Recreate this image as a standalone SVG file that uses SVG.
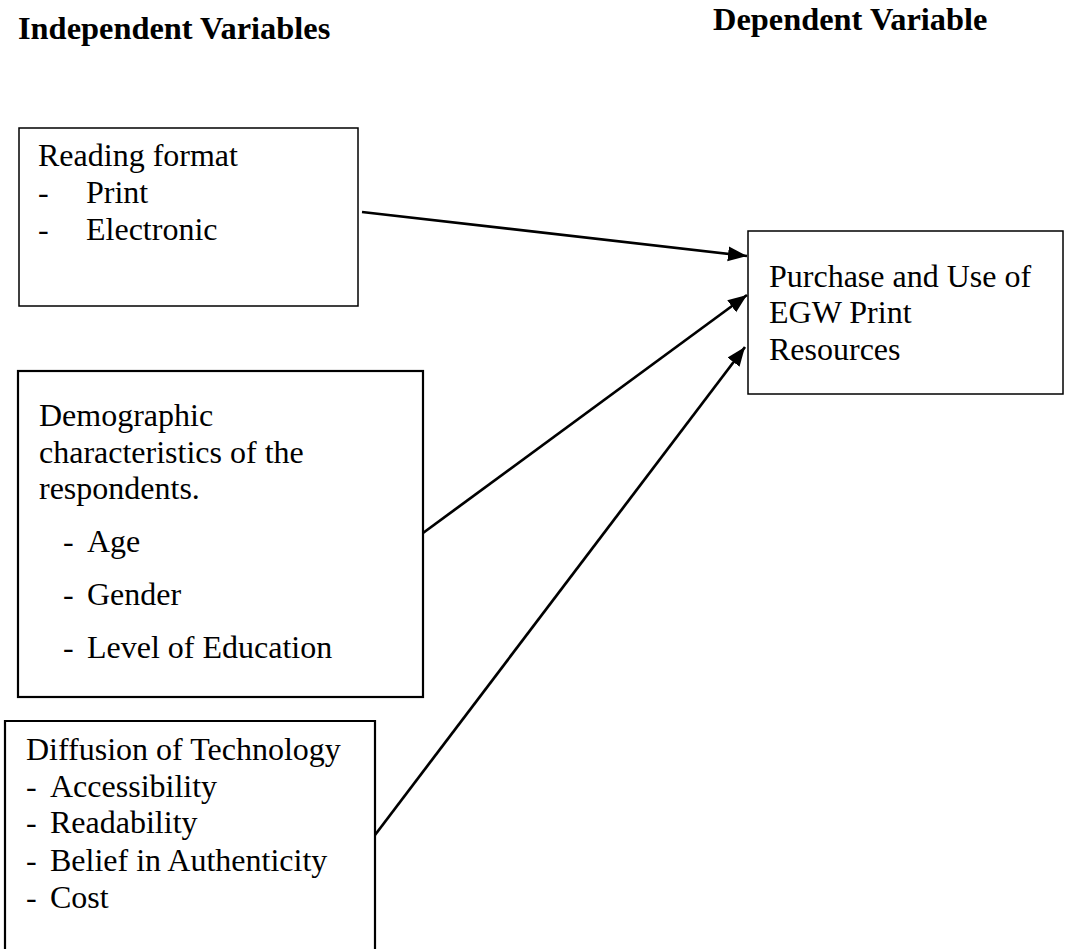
<svg xmlns="http://www.w3.org/2000/svg" width="1066" height="949" viewBox="0 0 1066 949">
<style>
text{font-family:"Liberation Serif","Times New Roman",serif;font-size:32px;fill:#000}
.h{font-weight:bold;font-size:32.4px}
.box{fill:#fff;stroke:#000;stroke-width:1.5}
.thick{stroke-width:2.2}
.conn{stroke:#000;stroke-width:2.7;fill:none;marker-end:url(#ah)}
</style>
<defs>
<marker id="ah" markerUnits="userSpaceOnUse" markerWidth="20" markerHeight="16" refX="19" refY="7.5" orient="auto">
<path d="M0,0 L19,7.5 L0,15 z" fill="#000"/>
</marker>
</defs>
<rect width="1066" height="949" fill="#fff"/>
<g id="headers">
<text class="h" x="18" y="39">Independent Variables</text>
<text class="h" x="713" y="30">Dependent Variable</text>
</g>
<g id="node-reading">
<rect class="box" x="19" y="128" width="339" height="178"/>
<text x="38" y="166">Reading format</text>
<text x="38" y="203">-</text><text x="86" y="203">Print</text>
<text x="38" y="240">-</text><text x="86" y="240">Electronic</text>
</g>
<g id="node-demographic">
<rect class="box thick" x="18" y="371" width="405" height="326"/>
<text x="39" y="426">Demographic</text>
<text x="39" y="463">characteristics of the</text>
<text x="39" y="499">respondents.</text>
<text x="63" y="552">-</text><text x="87" y="552">Age</text>
<text x="63" y="605">-</text><text x="87" y="605">Gender</text>
<text x="63" y="658">-</text><text x="87" y="658">Level of Education</text>
</g>
<g id="node-diffusion">
<path class="box thick" d="M5,960 L5,721 L375,721 L375,960"/>
<text x="26" y="760">Diffusion of Technology</text>
<text x="26" y="797">-</text><text x="50" y="797">Accessibility</text>
<text x="26" y="833">-</text><text x="50" y="833">Readability</text>
<text x="26" y="871">-</text><text x="50" y="871">Belief in Authenticity</text>
<text x="26" y="908">-</text><text x="50" y="908">Cost</text>
</g>
<g id="node-purchase">
<rect class="box" x="748" y="231" width="315" height="163"/>
<text x="769" y="287">Purchase and Use of</text>
<text x="769" y="323">EGW Print</text>
<text x="769" y="360">Resources</text>
</g>
<g id="connectors">
<line class="conn" x1="362" y1="212" x2="747" y2="256"/>
<line class="conn" x1="423" y1="533" x2="747" y2="295"/>
<line class="conn" x1="375" y1="835" x2="745" y2="347"/>
</g>
</svg>
